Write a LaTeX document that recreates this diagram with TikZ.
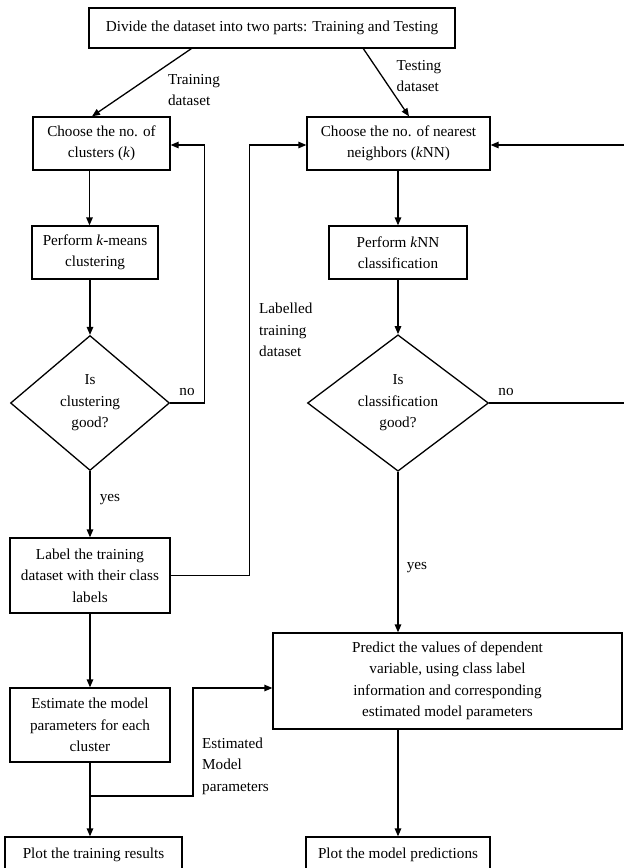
\documentclass[tikz,border=0pt]{standalone}
\usepackage{fontspec}
\setmainfont{Liberation Serif}
\usetikzlibrary{shapes.geometric,arrows.meta,calc}
\begin{document}
\begin{tikzpicture}[x=1pt,y=-1pt,
  every node/.style={font=\fontsize{15.2}{21.5}\selectfont},
  box/.style={draw,line width=1.3pt,rectangle,align=center,inner sep=0pt},
  dec/.style={draw,line width=1.3pt,diamond,align=center,inner sep=0pt,aspect=1},
  lbl/.style={align=left,inner sep=0pt},
  con/.style={line width=1.3pt,-{Triangle[length=8pt,width=6.5pt]}},
  lin/.style={line width=1.3pt}]
\clip (0,0) rectangle (624,868);
\useasboundingbox (0,0) rectangle (624,868);
% boxes
\node[box,minimum width=366pt,minimum height=40pt] (top) at (272,28) {Divide the dataset into two parts: Training and Testing};
\node[box,minimum width=137pt,minimum height=53pt] (c1) at (101.5,143.5) {Choose the no. of\\clusters (\textit{k})};
\node[box,minimum width=126pt,minimum height=53pt] (c2) at (95,252.5) {Perform \textit{k}-means\\clustering};
\node[dec,minimum width=159pt,minimum height=135pt] (d1) at (90,403) {Is\\clustering\\good?};
\node[box,minimum width=160pt,minimum height=75pt] (lab) at (90,575.5) {Label the training\\dataset with their class\\labels};
\node[box,minimum width=160pt,minimum height=74pt] (est) at (90,725) {Estimate the model\\parameters for each\\cluster};
\node[box,minimum width=177pt,minimum height=36pt] (pl1) at (93.5,855) {Plot the training results};
\node[box,minimum width=183pt,minimum height=53pt] (r1) at (398.5,143.5) {Choose the no. of nearest\\neighbors (\textit{k}NN)};
\node[box,minimum width=138pt,minimum height=53pt] (r2) at (398,252.5) {Perform \textit{k}NN\\classification};
\node[dec,minimum width=181pt,minimum height=135pt] (d2) at (398,403) {Is\\classification\\good?};
\node[box,minimum width=349pt,minimum height=96pt] (pred) at (447.5,681) {Predict the values of dependent\\variable, using class label\\information and corresponding\\estimated model parameters};
\node[box,minimum width=184pt,minimum height=36pt] (pl2) at (398,855) {Plot the model predictions};
% labels
\node[lbl] (ltr) at (194,90) {Training\\dataset};
\node[lbl] (lte) at (419,76) {Testing\\dataset};
\node[lbl,anchor=west] (llab) at (259,330) {Labelled\\training\\dataset};
\node[lbl] (lno1) at (187,392) {no};
\node[lbl] (lno2) at (506,392) {no};
\node[lbl] (lyes1) at (110,500) {yes};
\node[lbl] (lyes2) at (417,568) {yes};
\node[lbl,anchor=west] (lest) at (202,766) {Estimated\\Model\\parameters};
% coordinates
\coordinate (br) at (90,796);
\coordinate (e1) at (193,688);
\coordinate (rr) at (627,403);
% connectors
\draw[con] ([xshift=103pt]top.south west) -- ([xshift=-9.5pt]c1.north);
\draw[con] ([xshift=275pt]top.south west) -- ([xshift=10.5pt]r1.north);
\draw[con] ([xshift=-12pt]c1.south) -- ([xshift=-12pt]c1.south |- c2.north);
\draw[con] (d1.north |- c2.south) -- (d1.north);
\draw[con] (d1.east) -- ++(34.5,0) |- ([yshift=-1.5pt]c1.east);
\draw[con] (d1.south) -- (lab.north);
\draw[con] (lab.east) -- ++(79,0) |- ([yshift=-1.5pt]r1.west);
\draw[con] (lab.south) -- (est.north);
\draw[con] (est.south) -- (est.south |- pl1.north);
\draw[con] (br) -| (e1) -- (e1 -| pred.west);
\draw[con] (r1.south -| r2.north) -- (r2.north);
\draw[con] (r2.south) -- (d2.north);
\draw[con] (d2.east) -- (rr) -- (rr |- 0,145) -- ([yshift=-1.5pt]r1.east);
\draw[con] (d2.south) -- (d2.south |- pred.north);
\draw[con] (pl2.north |- pred.south) -- (pl2.north);
\end{tikzpicture}
\end{document}
